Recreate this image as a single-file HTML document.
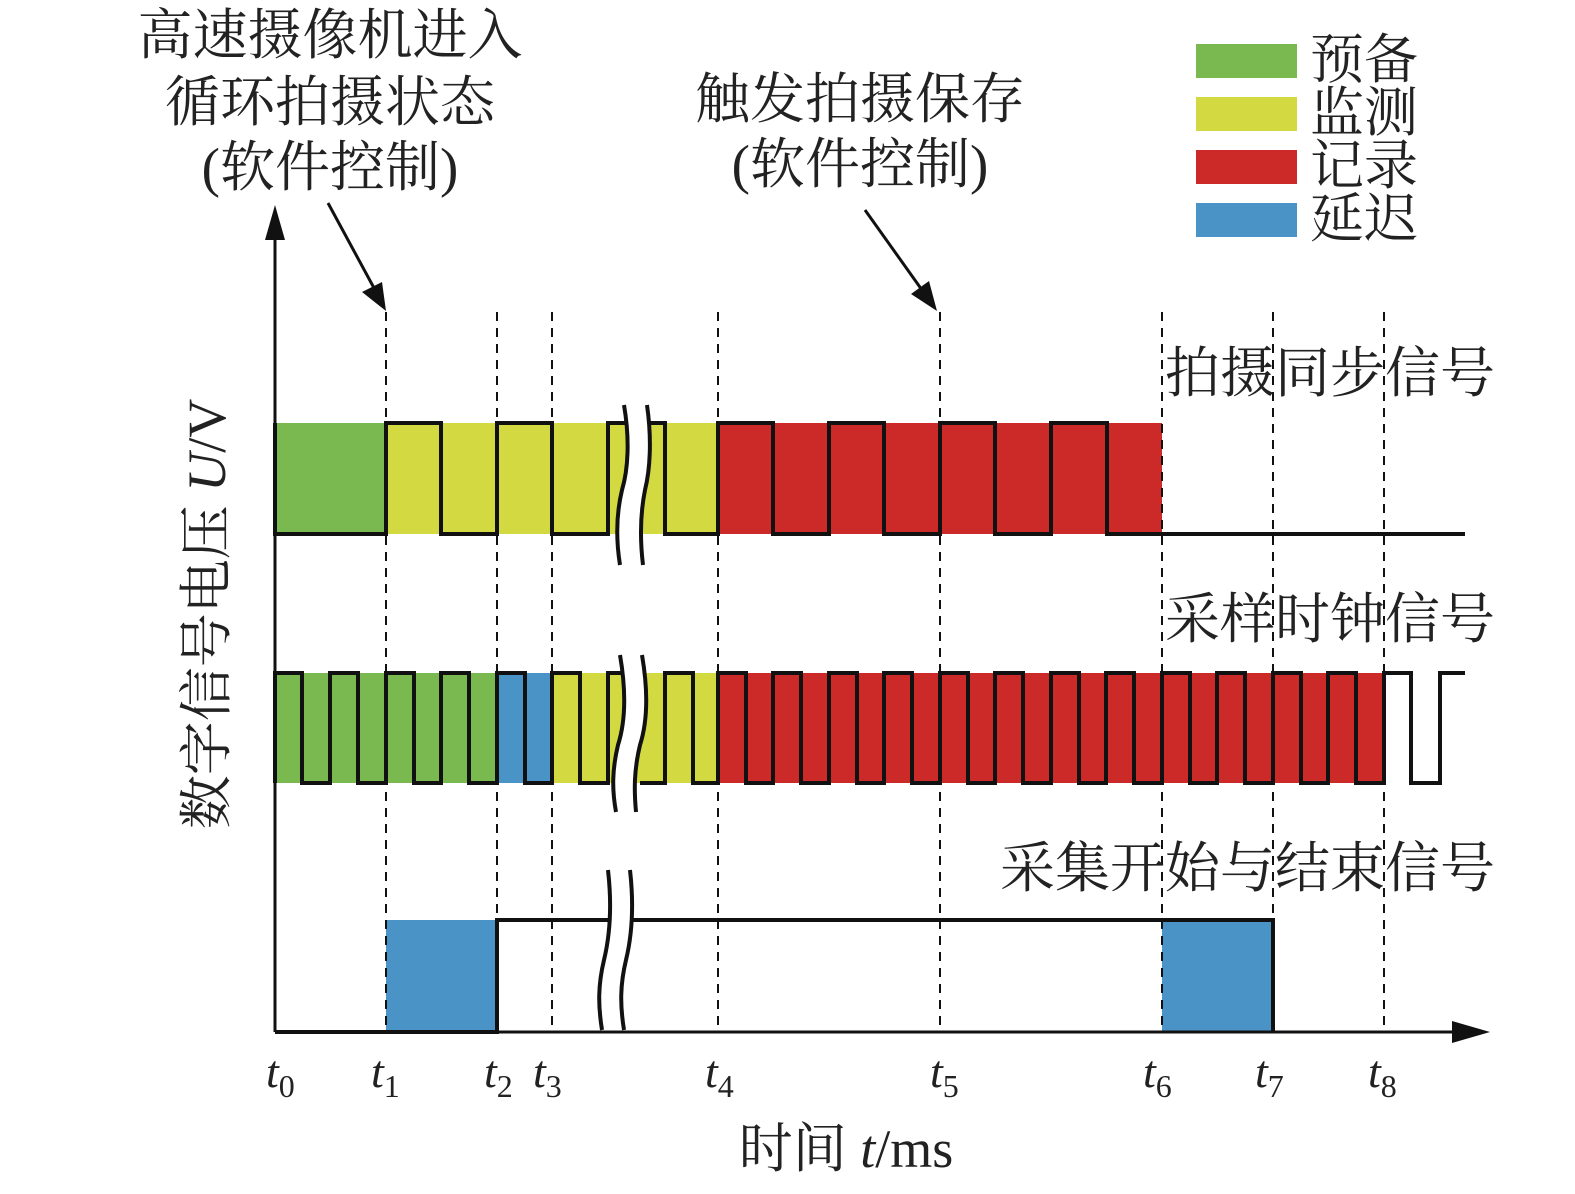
<!DOCTYPE html>
<html><head><meta charset="utf-8"><style>html,body{margin:0;padding:0;background:#fff}svg{display:block}</style></head><body>
<svg width="1575" height="1194" viewBox="0 0 1575 1194" xmlns="http://www.w3.org/2000/svg" font-family="'Liberation Serif','Noto Serif CJK SC',serif">
<rect x="275" y="423" width="111" height="111" fill="#79b94f"/>
<rect x="386" y="423" width="332" height="111" fill="#d3d941"/>
<rect x="718" y="423" width="444" height="111" fill="#cc2a28"/>
<rect x="275" y="673" width="222" height="110" fill="#79b94f"/>
<rect x="497" y="673" width="55" height="110" fill="#4a93c6"/>
<rect x="552" y="673" width="166" height="110" fill="#d3d941"/>
<rect x="718" y="673" width="666" height="110" fill="#cc2a28"/>
<rect x="386" y="920" width="111" height="112" fill="#4a93c6"/>
<rect x="1162" y="920" width="111" height="112" fill="#4a93c6"/>
<g stroke="#111" stroke-width="2" stroke-dasharray="9,7">
<line x1="386" y1="312" x2="386" y2="1032"/>
<line x1="497" y1="312" x2="497" y2="1032"/>
<line x1="552" y1="312" x2="552" y2="1032"/>
<line x1="718" y1="312" x2="718" y2="1032"/>
<line x1="940" y1="312" x2="940" y2="1032"/>
<line x1="1162" y1="312" x2="1162" y2="1032"/>
<line x1="1273" y1="312" x2="1273" y2="1032"/>
<line x1="1384" y1="312" x2="1384" y2="1032"/>
</g>
<line x1="275" y1="1032" x2="1460" y2="1032" stroke="#111" stroke-width="3"/>
<polygon points="1490,1032 1452,1021 1452,1043" fill="#111"/>
<line x1="275" y1="1032" x2="275" y2="235" stroke="#111" stroke-width="3"/>
<polygon points="275,205 265,240 285,240" fill="#111"/>
<g fill="none" stroke="#111" stroke-width="4" stroke-linejoin="miter">
<path d="M275,423 V534 H386 V423 H441 V534 H497 V423 H552 V534 H608 V423 H628"/>
<path d="M648,423 H665 V534 H718 V423 H773 V534 H829 V423 H884 V534 H940 V423 H995 V534 H1051 V423 H1107 V534 H1465"/>
<path d="M275,783 V673 H302 V783 H330 V673 H358 V783 H386 V673 H414 V783 H441 V673 H469 V783 H497 V673 H525 V783 H552 V673 H580 V783 H608 V673 H625"/>
<path d="M640,783 H665 V673 H693 V783 H718 V673 H746 V783 H773 V673 H801 V783 H829 V673 H857 V783 H884 V673 H912 V783 H940 V673 H968 V783 H995 V673 H1023 V783 H1051 V673 H1079 V783 H1106 V673 H1134 V783 H1162 V673 H1190 V783 H1217 V673 H1245 V783 H1273 V673 H1301 V783 H1328 V673 H1356 V783 H1384 V673 H1411 V783 H1440 V673 H1465"/>
<path d="M275,1032 H497 V920 H1273 V1032"/>
</g>
<g stroke="#111" stroke-width="4" fill="#fff">
<path d="M624,405 C630,440 628,470 622,490 C616,515 616,540 620,565 L643,565 C640,540 640,515 645,490 C650,470 652,440 647,405 Z" stroke="none"/>
<path d="M624,405 C630,440 628,470 622,490 C616,515 616,540 620,565" fill="none"/>
<path d="M647,405 C652,440 650,470 645,490 C640,515 640,540 643,565" fill="none"/>
<path d="M620,655 C626,690 626,720 618,745 C612,770 612,790 616,812 L636,812 C634,790 634,770 640,745 C646,720 648,690 642,655 Z" stroke="none"/>
<path d="M620,655 C626,690 626,720 618,745 C612,770 612,790 616,812" fill="none"/>
<path d="M642,655 C648,690 648,720 640,745 C634,770 634,790 636,812" fill="none"/>
<path d="M608,870 C612,905 610,935 604,960 C598,985 598,1005 602,1030 L624,1030 C620,1005 620,985 626,960 C632,935 634,905 630,870 Z" stroke="none"/>
<path d="M608,870 C612,905 610,935 604,960 C598,985 598,1005 602,1030" fill="none"/>
<path d="M630,870 C634,905 632,935 626,960 C620,985 620,1005 624,1030" fill="none"/>
</g>
<line x1="328" y1="203" x2="374" y2="288" stroke="#111" stroke-width="3"/>
<polygon points="386,311 362,292 382,282" fill="#111"/>
<line x1="865" y1="210" x2="922" y2="290" stroke="#111" stroke-width="3"/>
<polygon points="937,311 911,294 929,281" fill="#111"/>
<rect x="1196" y="44" width="101" height="34" fill="#79b94f"/>
<rect x="1196" y="97" width="101" height="34" fill="#d3d941"/>
<rect x="1196" y="150" width="101" height="34" fill="#cc2a28"/>
<rect x="1196" y="203" width="101" height="34" fill="#4a93c6"/>
<g font-size="54" fill="#222">
<text x="1310" y="78">预备</text>
<text x="1310" y="131">监测</text>
<text x="1310" y="184">记录</text>
<text x="1310" y="237">延迟</text>
</g>
<g font-size="55" fill="#222" text-anchor="middle">
<text x="330" y="54">高速摄像机进入</text>
<text x="330" y="121">循环拍摄状态</text>
<text x="330" y="186">(软件控制)</text>
<text x="860" y="118">触发拍摄保存</text>
<text x="860" y="183">(软件控制)</text>
</g>
<g font-size="55" fill="#222">
<text x="1165" y="392">拍摄同步信号</text>
<text x="1165" y="638">采样时钟信号</text>
<text x="1000" y="887">采集开始与结束信号</text>
</g>
<text transform="translate(225,614) rotate(-90)" text-anchor="middle" font-size="54" fill="#222">数字信号电压 <tspan font-style="italic">U</tspan>/V</text>
<g font-size="46" fill="#222" font-style="italic">
<text x="266" y="1087">t<tspan font-size="32" font-style="normal" dy="10">0</tspan></text>
<text x="371" y="1087">t<tspan font-size="32" font-style="normal" dy="10">1</tspan></text>
<text x="484" y="1087">t<tspan font-size="32" font-style="normal" dy="10">2</tspan></text>
<text x="533" y="1087">t<tspan font-size="32" font-style="normal" dy="10">3</tspan></text>
<text x="705" y="1087">t<tspan font-size="32" font-style="normal" dy="10">4</tspan></text>
<text x="930" y="1087">t<tspan font-size="32" font-style="normal" dy="10">5</tspan></text>
<text x="1143" y="1087">t<tspan font-size="32" font-style="normal" dy="10">6</tspan></text>
<text x="1255" y="1087">t<tspan font-size="32" font-style="normal" dy="10">7</tspan></text>
<text x="1368" y="1087">t<tspan font-size="32" font-style="normal" dy="10">8</tspan></text>
</g>
<text x="846" y="1167" text-anchor="middle" font-size="54" fill="#222">时间 <tspan font-style="italic">t</tspan>/ms</text>
</svg>
</body></html>
